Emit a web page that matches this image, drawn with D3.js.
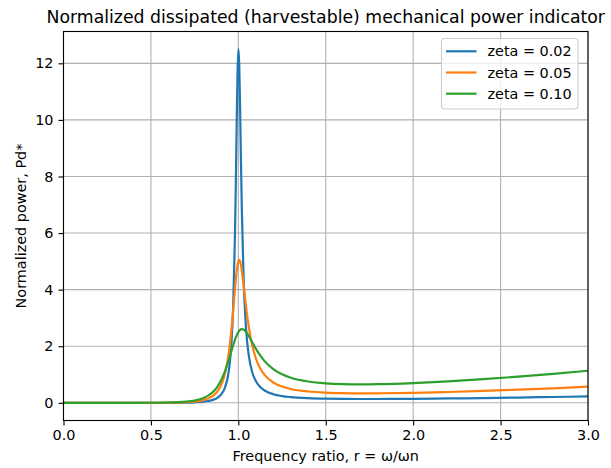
<!DOCTYPE html>
<html><head><meta charset="utf-8">
<script src="https://cdn.jsdelivr.net/npm/d3@7"></script>
<style>body{margin:0;background:#fff}svg{display:block}text{font-family:"DejaVu Sans",sans-serif}</style>
</head><body>
<script>
const ratios = [0,0.1,0.2,0.3,0.4,0.5,0.6,0.7,0.75,0.8,0.85,0.88,0.9,0.92,0.94,0.95,0.96,0.97,0.98,0.985,0.99,0.995,1.0,1.005,1.01,1.015,1.02,1.03,1.04,1.05,1.06,1.08,1.1,1.12,1.15,1.2,1.25,1.3,1.4,1.5,1.6,1.7,1.8,2.0,2.2,2.4,2.6,2.8,3.0];
const zeta002 = [0,0,0,0,0.00012,0.00056,0.00228,0.00902,0.0185,0.0401,0.0965,0.178,0.284,0.486,0.922,1.343,2.054,3.333,5.706,7.489,9.587,11.528,12.5,12.006,10.428,8.536,6.831,4.418,3.016,2.184,1.662,1.074,0.770,0.592,0.436,0.305,0.239,0.202,0.163,0.145,0.138,0.135,0.135,0.142,0.154,0.169,0.186,0.206,0.228];
const zeta005 = [0,0,0,0,0.00029,0.00138,0.00565,0.0222,0.0452,0.0964,0.224,0.396,0.601,0.946,1.541,1.983,2.548,3.228,3.965,4.313,4.616,4.852,5.0,5.051,5.005,4.874,4.678,4.170,3.620,3.112,2.675,2.016,1.576,1.277,0.987,0.718,0.574,0.490,0.400,0.359,0.341,0.335,0.337,0.354,0.383,0.421,0.465,0.514,0.569];
const zeta010 = [0,0,0,0.0001,0.00058,0.00273,0.0110,0.0421,0.0832,0.169,0.356,0.567,0.776,1.055,1.411,1.612,1.820,2.025,2.215,2.301,2.377,2.444,2.5,2.544,2.576,2.596,2.604,2.588,2.535,2.454,2.355,2.134,1.915,1.718,1.474,1.189,1.007,0.888,0.753,0.689,0.662,0.655,0.661,0.699,0.759,0.835,0.924,1.023,1.133];
const seriesLabels = ["zeta = 0.02","zeta = 0.05","zeta = 0.10"];
const xTicks = [0,0.5,1.0,1.5,2.0,2.5,3.0];
const yTicks = [0,2,4,6,8,10,12];
const titleText = "Normalized dissipated (harvestable) mechanical power indicator";
const xLabel = "Frequency ratio, r = ω/ωn";
const yLabel = "Normalized power, Pd*";

const W = 611, H = 468;
const m = {left: 63.5, right: 588, top: 31.5, bottom: 420.5};
const colors = ["#1f77b4","#ff7f0e","#2ca02c"];
const seriesVals = [zeta002, zeta005, zeta010];
const FS = "14.4px";

const svg = d3.select("body").append("svg").attr("width", W).attr("height", H);
const x = d3.scaleLinear().domain([0,3]).range([m.left, m.right]);
const y = d3.scaleLinear().domain([-0.625, 13.125]).range([m.bottom, m.top]);

// grid
const g = svg.append("g");
g.selectAll(".vx").data(xTicks).enter().append("line")
  .attr("x1", d=>x(d)).attr("x2", d=>x(d)).attr("y1", m.top).attr("y2", m.bottom)
  .attr("stroke", "#b0b0b0").attr("stroke-width", 1.1);
g.selectAll(".hy").data(yTicks).enter().append("line")
  .attr("y1", d=>y(d)).attr("y2", d=>y(d)).attr("x1", m.left).attr("x2", m.right)
  .attr("stroke", "#b0b0b0").attr("stroke-width", 1.1);

// lines
svg.append("clipPath").attr("id","c").append("rect")
  .attr("x", m.left).attr("y", m.top).attr("width", m.right-m.left).attr("height", m.bottom-m.top);
const line = d3.line().x(d=>x(d[0])).y(d=>y(d[1])).curve(d3.curveMonotoneX);
seriesVals.forEach((vals, i) => {
  svg.append("path").datum(ratios.map((r, j) => [r, vals[j]]))
    .attr("d", line).attr("fill", "none").attr("stroke", colors[i])
    .attr("stroke-width", 2.2).attr("stroke-linejoin","round").attr("clip-path","url(#c)");
});

// axes
const xAxis = d3.axisBottom(x).tickValues(xTicks).tickFormat(d3.format(".1f")).tickSizeOuter(0).tickSize(5).tickPadding(4.5);
const yAxis = d3.axisLeft(y).tickValues(yTicks).tickFormat(d3.format("d")).tickSizeOuter(0).tickSize(5).tickPadding(5);
const gx = svg.append("g").attr("transform", `translate(0,${m.bottom})`).call(xAxis);
const gy = svg.append("g").attr("transform", `translate(${m.left},0)`).call(yAxis);
[gx, gy].forEach(a => {
  a.select(".domain").remove();
  a.selectAll("text").attr("font-size", FS).attr("font-family", "DejaVu Sans").attr("fill", "#000");
  a.selectAll("line").attr("stroke", "#000").attr("stroke-width", 1.1);
});
svg.append("rect").attr("x", m.left).attr("y", m.top).attr("width", m.right-m.left).attr("height", m.bottom-m.top)
  .attr("fill", "none").attr("stroke", "#000").attr("stroke-width", 1.1);

// title and labels
svg.append("text").attr("x", (m.left+m.right)/2).attr("y", 22.5).attr("text-anchor","middle")
  .attr("font-size","17.3px").text(titleText);
svg.append("text").attr("x", (m.left+m.right)/2).attr("y", 460.7).attr("text-anchor","middle")
  .attr("font-size",FS).text(xLabel);
svg.append("text").attr("transform", `translate(25.5,${(m.top+m.bottom)/2}) rotate(-90)`).attr("text-anchor","middle")
  .attr("font-size",FS).text(yLabel);

// legend
const lg = svg.append("g");
lg.append("rect").attr("x", 441.5).attr("y", 38.5).attr("width", 136.5).attr("height", 70.5).attr("rx", 3)
  .attr("fill", "rgba(255,255,255,0.8)").attr("stroke", "#cccccc").attr("stroke-width", 1.1);
seriesLabels.forEach((s, i) => {
  const yy = 51.3 + i*21.2;
  lg.append("line").attr("x1", 446).attr("x2", 476.5).attr("y1", yy).attr("y2", yy)
    .attr("stroke", colors[i]).attr("stroke-width", 2.2);
  lg.append("text").attr("x", 487.5).attr("y", yy).attr("dy", "0.36em").attr("font-size", FS).text(s);
});
</script>
</body></html>
